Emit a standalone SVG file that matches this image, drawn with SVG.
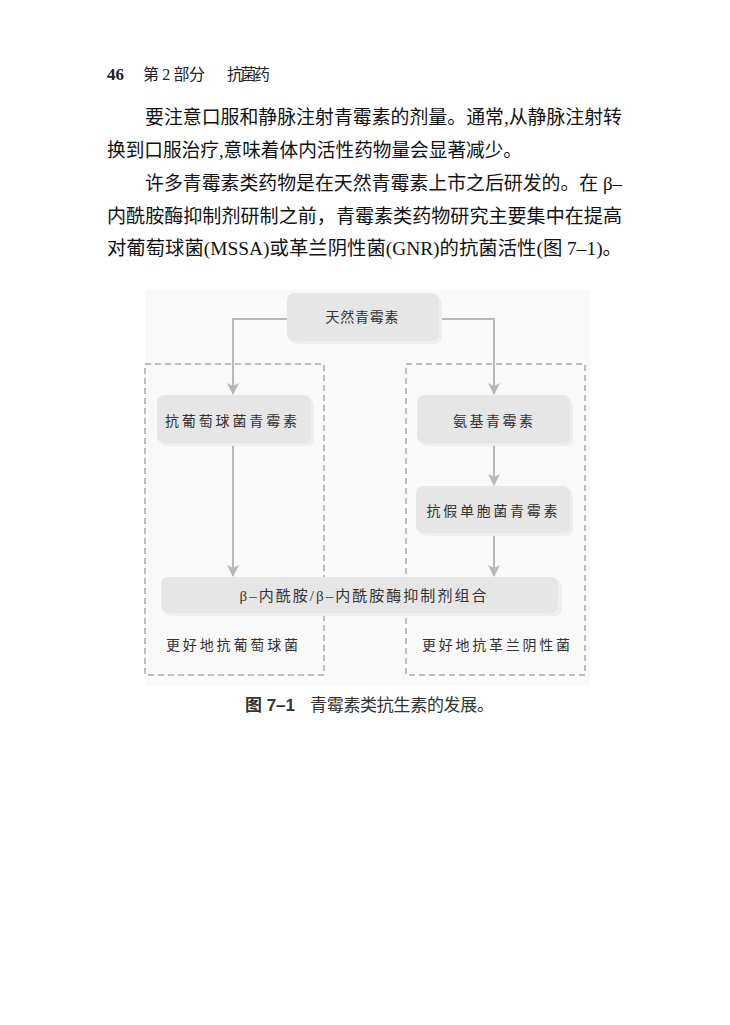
<svg xmlns="http://www.w3.org/2000/svg" width="730" height="1025" viewBox="0 0 730 1025">
<style>
  .body { font-family: "Liberation Serif", "Noto Sans CJK SC", serif; font-size: 19px; fill: #111; }
  .hdr { font-family: "Liberation Serif", "Noto Sans CJK SC", serif; font-size: 16px; fill: #222; }
  .lbl { font-family: "Liberation Serif", "Noto Sans CJK SC", serif; font-size: 14px; fill: #333; text-anchor: middle; }
  .box { fill: #e6e6e6; }
  .shadow { fill: #eeeeee; }
  .dash { fill: none; stroke: #aaaaaa; stroke-width: 1.5; stroke-dasharray: 6 4; }
  .conn { fill: none; stroke: #b8b8b8; stroke-width: 2; }
  .cap { font-family: "Liberation Serif", "Noto Sans CJK SC", serif; font-size: 17px; fill: #333; }
</style>
<defs>
  <marker id="arr" viewBox="0 0 12 12" refX="11" refY="6" markerWidth="12" markerHeight="12" markerUnits="userSpaceOnUse" orient="auto">
    <path d="M0,0 L12,6 L0,12 L3,6 z" fill="#b8b8b8"/>
  </marker>
</defs>
<rect width="730" height="1025" fill="#ffffff"/>

<!-- page header and body text -->
<g id="page-text">
  <text x="107" y="80" class="hdr" style="font-weight:bold;font-size:17px">46</text>
  <text x="143" y="80" class="hdr" textLength="62" lengthAdjust="spacing">第 2 部分</text>
  <text x="227" y="80" class="hdr" textLength="43" lengthAdjust="spacing">抗菌药</text>
  <text x="145" y="124" class="body" textLength="477" lengthAdjust="spacingAndGlyphs">要注意口服和静脉注射青霉素的剂量。通常,从静脉注射转</text>
  <text x="107" y="157" class="body" textLength="415" lengthAdjust="spacingAndGlyphs">换到口服治疗,意味着体内活性药物量会显著减少。</text>
  <text x="145" y="190" class="body" textLength="477" lengthAdjust="spacingAndGlyphs">许多青霉素类药物是在天然青霉素上市之后研发的。在 β–</text>
  <text x="107" y="223" class="body" textLength="515" lengthAdjust="spacingAndGlyphs">内酰胺酶抑制剂研制之前，青霉素类药物研究主要集中在提高</text>
  <text x="107" y="255" class="body" textLength="515" lengthAdjust="spacingAndGlyphs">对葡萄球菌(MSSA)或革兰阴性菌(GNR)的抗菌活性(图 7–1)。</text>
</g>

<!-- figure panel -->
<rect x="145" y="290" width="445" height="395" fill="#f9f9f9"/>

<g id="group-left">
  <rect x="145" y="364" width="179" height="311" class="dash"/>
  <text x="232" y="650" class="lbl" textLength="132" lengthAdjust="spacing">更好地抗葡萄球菌</text>
</g>
<g id="group-right">
  <rect x="406" y="364" width="179" height="311" class="dash"/>
  <text x="496" y="650" class="lbl" textLength="148" lengthAdjust="spacing">更好地抗革兰阴性菌</text>
</g>

<g id="connectors">
  <path d="M287,319 H233 V394" class="conn" marker-end="url(#arr)"/>
  <path d="M439,319 H494 V394" class="conn" marker-end="url(#arr)"/>
  <path d="M233,443 V576" class="conn" marker-end="url(#arr)"/>
  <path d="M494,443 V485" class="conn" marker-end="url(#arr)"/>
  <path d="M494,533 V576" class="conn" marker-end="url(#arr)"/>
</g>

<g id="node-natural">
  <rect x="290" y="296" width="152" height="48" rx="7" class="shadow"/>
  <rect x="287" y="293" width="152" height="48" rx="7" class="box"/>
  <text x="362" y="322" class="lbl" textLength="73" lengthAdjust="spacing">天然青霉素</text>
</g>
<g id="node-antistaph">
  <rect x="160" y="398" width="154" height="48" rx="7" class="shadow"/>
  <rect x="157" y="395" width="154" height="48" rx="7" class="box"/>
  <text x="231" y="426" class="lbl" textLength="132" lengthAdjust="spacing">抗葡萄球菌青霉素</text>
</g>
<g id="node-amino">
  <rect x="420" y="398" width="153" height="48" rx="7" class="shadow"/>
  <rect x="417" y="395" width="153" height="48" rx="7" class="box"/>
  <text x="493" y="426" class="lbl" textLength="80" lengthAdjust="spacing">氨基青霉素</text>
</g>
<g id="node-antipseudo">
  <rect x="419" y="489" width="154" height="47" rx="7" class="shadow"/>
  <rect x="416" y="486" width="154" height="47" rx="7" class="box"/>
  <text x="492" y="516" class="lbl" textLength="131" lengthAdjust="spacing">抗假单胞菌青霉素</text>
</g>
<g id="node-combo">
  <rect x="164" y="580" width="398" height="36" rx="7" class="shadow"/>
  <rect x="161" y="577" width="397" height="36" rx="7" class="box"/>
  <text x="363" y="601" class="lbl" style="font-size:15px" textLength="247" lengthAdjust="spacing">β–内酰胺/β–内酰胺酶抑制剂组合</text>
</g>

<g id="caption">
  <text x="245" y="711" class="cap" style="font-family:'Liberation Sans','Noto Sans CJK SC',sans-serif;font-weight:bold;fill:#333" textLength="50" lengthAdjust="spacing">图 7–1</text>
  <text x="310" y="711" class="cap" textLength="184" lengthAdjust="spacing">青霉素类抗生素的发展。</text>
</g>
</svg>
